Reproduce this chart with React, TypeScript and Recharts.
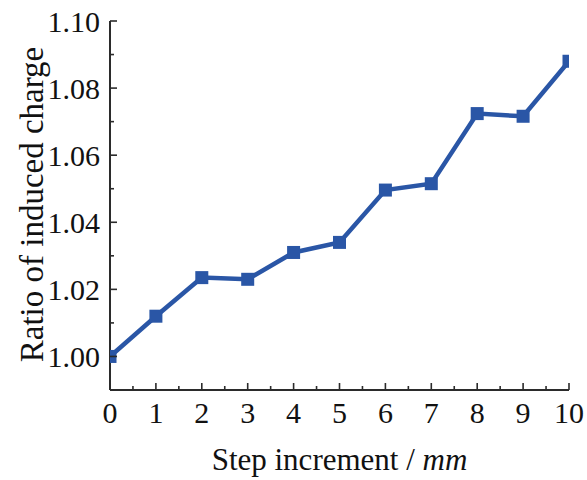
import { Label, Line, LineChart, XAxis, YAxis } from 'recharts';

const stepMm = [0, 1, 2, 3, 4, 5, 6, 7, 8, 9, 10];
const chargeRatio = [1.0, 1.012, 1.0235, 1.023, 1.031, 1.034, 1.0496, 1.0515, 1.0724, 1.0716, 1.088];

const xTicks = [0, 0.5, 1, 1.5, 2, 2.5, 3, 3.5, 4, 4.5, 5, 5.5, 6, 6.5, 7, 7.5, 8, 8.5, 9, 9.5, 10];
const xMajorTicks = [0, 1, 2, 3, 4, 5, 6, 7, 8, 9, 10];
const yTicks = [0.99, 1.0, 1.01, 1.02, 1.03, 1.04, 1.05, 1.06, 1.07, 1.08, 1.09, 1.1];
const yMajorTicks = [1.0, 1.02, 1.04, 1.06, 1.08, 1.1];

const data = stepMm.map((step, i) => ({ step, ratio: chargeRatio[i] }));

const FONT = '"Liberation Serif", "Times New Roman", serif';
const AXIS = '#2b2b2b';
const BLUE = '#2a56a6';

interface TickProps {
    x?: number;
    y?: number;
    payload?: { value: number };
}

const XTick = ({ x = 0, y = 0, payload }: TickProps) => {
    const major = xMajorTicks.includes(payload?.value ?? -1);
    return (
        <g>
            <line x1={x} y1={y} x2={x} y2={y - (major ? 7 : 4)} stroke={AXIS} strokeWidth={1.6} />
            {major && (
                <text x={x} y={y + 33} textAnchor="middle" fontFamily={FONT} fontSize={30} fill="#111">
                    {payload?.value}
                </text>
            )}
        </g>
    );
};

const YTick = ({ x = 0, y = 0, payload }: TickProps) => {
    const major = yMajorTicks.includes(payload?.value ?? -1);
    return (
        <g>
            <line x1={x} y1={y} x2={x + (major ? 7 : 4)} y2={y} stroke={AXIS} strokeWidth={1.6} />
            {major && (
                <text x={x - 10} y={y} textAnchor="end" dominantBaseline="central" fontFamily={FONT} fontSize={30} fill="#111">
                    {payload?.value.toFixed(2)}
                </text>
            )}
        </g>
    );
};

const Square = (props: { cx?: number; cy?: number; index?: number }) => {
    const { cx = 0, cy = 0, index } = props;
    return <rect key={`sq-${index}`} x={cx - 6.5} y={cy - 6.5} width={13} height={13} fill={BLUE} />;
};

const App = () => {
    return (
        <div style={{ position: 'absolute', left: 0, top: 0, background: '#fff' }}>
            <LineChart width={587} height={480} data={data} margin={{ top: 21, right: 18, bottom: 0, left: 0 }}>
                <XAxis
                    dataKey="step"
                    type="number"
                    domain={[0, 10]}
                    ticks={xTicks}
                    interval={0}
                    allowDataOverflow
                    height={90}
                    tickSize={0}
                    tickMargin={0}
                    tickLine={false}
                    tick={(p: TickProps) => <XTick {...p} />}
                    axisLine={{ stroke: AXIS, strokeWidth: 2 }}
                >
                    <Label
                        content={({ viewBox }: any) => (
                            <text
                                x={(viewBox?.x ?? 0) + (viewBox?.width ?? 0) / 2}
                                y={(viewBox?.y ?? 0) + 80}
                                textAnchor="middle"
                                fontFamily={FONT}
                                fontSize={31}
                                fill="#111"
                            >
                                Step increment / <tspan fontStyle="italic">mm</tspan>
                            </text>
                        )}
                    />
                </XAxis>
                <XAxis
                    xAxisId="top"
                    orientation="top"
                    type="number"
                    domain={[0, 10]}
                    height={0}
                    tick={false}
                    tickLine={false}
                    axisLine={{ stroke: AXIS, strokeWidth: 2 }}
                />
                <YAxis
                    type="number"
                    domain={[0.99, 1.1]}
                    ticks={yTicks}
                    interval={0}
                    allowDataOverflow
                    width={110}
                    tickSize={0}
                    tickMargin={0}
                    tickLine={false}
                    tick={(p: TickProps) => <YTick {...p} />}
                    axisLine={{ stroke: AXIS, strokeWidth: 2 }}
                >
                    <Label
                        content={({ viewBox }: any) => {
                            const cx = (viewBox?.x ?? 0) + 43;
                            const cy = (viewBox?.y ?? 0) + (viewBox?.height ?? 0) / 2 - 1;
                            return (
                                <text
                                    x={cx}
                                    y={cy}
                                    transform={`rotate(-90, ${cx}, ${cy})`}
                                    textAnchor="middle"
                                    fontFamily={FONT}
                                    fontSize={33}
                                    fill="#111"
                                >
                                    Ratio of induced charge
                                </text>
                            );
                        }}
                    />
                </YAxis>
                <YAxis
                    yAxisId="right"
                    orientation="right"
                    type="number"
                    domain={[0.99, 1.1]}
                    width={0}
                    tick={false}
                    tickLine={false}
                    axisLine={{ stroke: AXIS, strokeWidth: 2 }}
                />
                <Line
                    dataKey="ratio"
                    stroke={BLUE}
                    strokeWidth={4.5}
                    dot={(p: any) => <Square {...p} />}
                    activeDot={false}
                    isAnimationActive={false}
                />
            </LineChart>
        </div>
    );
};

export default App;
